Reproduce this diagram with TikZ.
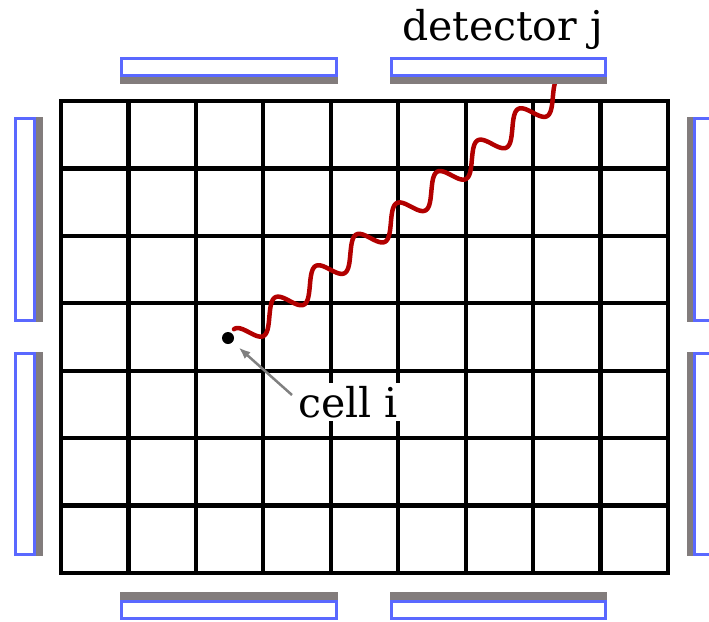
\documentclass[tikz,border=0pt]{standalone}
\usepackage{fontspec}
\setmainfont{DejaVu Serif}
\usetikzlibrary{arrows.meta}
\definecolor{detblue}{RGB}{90,104,255}
\definecolor{shadowgray}{RGB}{130,124,124}
\definecolor{wavered}{RGB}{178,0,0}
\definecolor{arrowgray}{RGB}{128,128,128}
\begin{document}
\begin{tikzpicture}[x=1pt,y=-1pt,
  gridline/.style={line width=4.2pt,black},
  detframe/.style={draw=detblue,line width=3pt,fill=white},
  detshadow/.style={fill=shadowgray},
  textlabel/.style={font=\fontsize{41}{48}\selectfont, inner sep=3pt},
]
\useasboundingbox (0,0) rectangle (709,621);
% grid
\foreach \i in {1,...,8} \draw[gridline] ({61+\i*67.444},101) -- ({61+\i*67.444},573);
\foreach \j in {1,...,6} \draw[gridline] (61,{101+\j*67.429}) -- (668,{101+\j*67.429});
\draw[gridline] (61,101) rectangle (668,573);
% photon (runs under the detector)
\draw[wavered, line width=4.5pt, line cap=round] plot[domain=0:2880, samples=481, smooth, variable=\p]
  ({239+(\p/360)*40.5-5*cos(\p)}, {340.2-(\p/360)*31.4-11*cos(\p)});
% top detectors
\fill[detshadow] (120,64) rectangle (338,84);
\draw[detframe] (121.5,58.5) rectangle (336.5,75.5);
\fill[detshadow] (390,64) rectangle (607,84);
\draw[detframe] (391.5,58.5) rectangle (605.5,75.5);
% bottom detectors
\fill[detshadow] (120,592) rectangle (338,612);
\draw[detframe] (121.5,601.5) rectangle (336.5,618.5);
\fill[detshadow] (390,592) rectangle (607,612);
\draw[detframe] (391.5,601.5) rectangle (605.5,618.5);
% left detectors
\fill[detshadow] (22,117) rectangle (43,322);
\draw[detframe] (15.5,118.5) rectangle (34.5,320.5);
\fill[detshadow] (22,352) rectangle (43,556);
\draw[detframe] (15.5,353.5) rectangle (34.5,554.5);
% right detectors
\fill[detshadow] (687,117) rectangle (708,322);
\draw[detframe] (694.5,118.5) rectangle (713.5,320.5);
\fill[detshadow] (687,352) rectangle (708,556);
\draw[detframe] (694.5,353.5) rectangle (713.5,554.5);
% cell i marker and labels
\node[circle, fill=black, inner sep=0pt, minimum size=12pt] (dot) at (228,338) {};
\coordinate (atail) at (292,395);
\draw[arrowgray, line width=2.5pt, -{Latex[length=12pt,width=9pt]}, shorten >=8pt] (atail) -- (dot);
\node[textlabel, fill=white, anchor=base] (cell) at (348,417) {cell i};
\node[textlabel, anchor=base] (detj) at (502.5,40) {detector j};
\end{tikzpicture}
\end{document}
